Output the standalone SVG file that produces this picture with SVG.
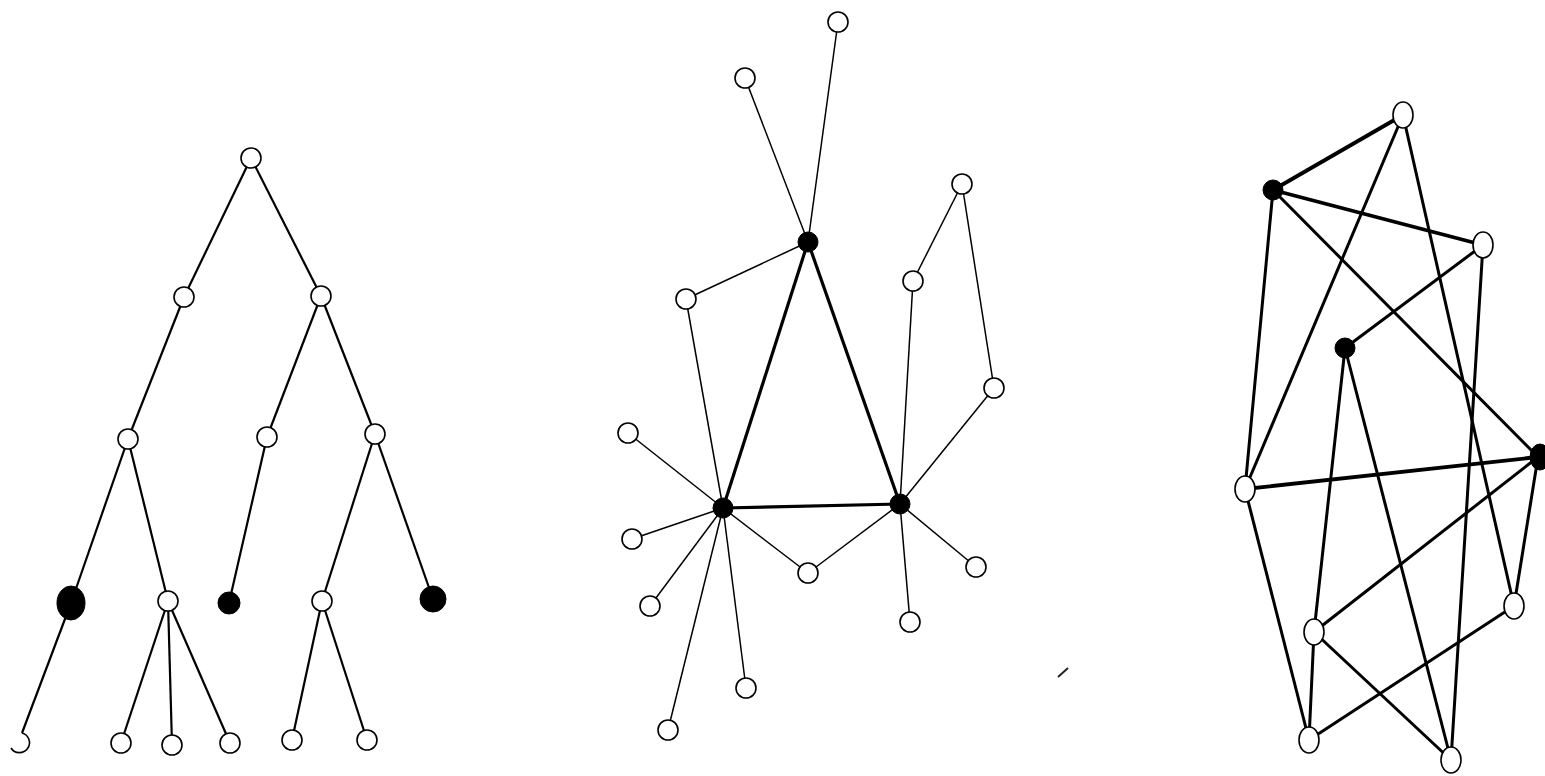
<svg xmlns="http://www.w3.org/2000/svg" width="1545" height="776" viewBox="0 0 1545 776">
<style>
.w{fill:#fff;stroke:#000;stroke-width:1.6}
.b{fill:#000;stroke:#000;stroke-width:1}
.t line{stroke:#000;stroke-width:2.2}
.m line{stroke:#000;stroke-width:1.5}
.m line.k{stroke-width:3.2}
.r line{stroke:#000;stroke-width:3}
.r line.k{stroke-width:3.8}
</style>
<rect width="1545" height="776" fill="#fff"/>
<g id="connectors">
<g class="t">
<line x1="251" y1="158" x2="184" y2="297"/>
<line x1="251" y1="158" x2="321" y2="296"/>
<line x1="184" y1="297" x2="128" y2="439"/>
<line x1="321" y1="296" x2="267" y2="437"/>
<line x1="321" y1="296" x2="375" y2="434"/>
<line x1="128" y1="439" x2="71" y2="603"/>
<line x1="128" y1="439" x2="168" y2="601"/>
<line x1="267" y1="437" x2="229" y2="603"/>
<line x1="375" y1="434" x2="322" y2="601"/>
<line x1="375" y1="434" x2="433" y2="599"/>
<line x1="71" y1="603" x2="22" y2="733"/>
<line x1="168" y1="601" x2="121" y2="743"/>
<line x1="168" y1="601" x2="172" y2="745"/>
<line x1="168" y1="601" x2="230" y2="743"/>
<line x1="322" y1="601" x2="292" y2="740"/>
<line x1="322" y1="601" x2="367" y2="740"/>
</g>
<g class="m">
<line x1="808" y1="242" x2="838" y2="22"/>
<line x1="808" y1="242" x2="745" y2="78"/>
<line x1="808" y1="242" x2="686" y2="299"/>
<line x1="686" y1="299" x2="723" y2="508"/>
<line class="k" x1="808" y1="242" x2="723" y2="508"/>
<line class="k" x1="808" y1="242" x2="900" y2="504"/>
<line class="k" x1="723" y1="508" x2="900" y2="504"/>
<line x1="723" y1="508" x2="628" y2="433"/>
<line x1="723" y1="508" x2="632" y2="539"/>
<line x1="723" y1="508" x2="650" y2="606"/>
<line x1="723" y1="508" x2="668" y2="730"/>
<line x1="723" y1="508" x2="746" y2="688"/>
<line x1="723" y1="508" x2="808" y2="573"/>
<line x1="900" y1="504" x2="808" y2="573"/>
<line x1="900" y1="504" x2="976" y2="567"/>
<line x1="900" y1="504" x2="910" y2="622"/>
<line x1="900" y1="504" x2="913" y2="281"/>
<line x1="900" y1="504" x2="994" y2="388"/>
<line x1="913" y1="281" x2="962" y2="184"/>
<line x1="962" y1="184" x2="994" y2="388"/>
</g>
<g class="r">
<line class="k" x1="1273" y1="190" x2="1403" y2="115"/>
<line class="k" x1="1273" y1="190" x2="1483" y2="245"/>
<line x1="1273" y1="190" x2="1538" y2="457"/>
<line x1="1273" y1="190" x2="1245" y2="489"/>
<line x1="1403" y1="115" x2="1245" y2="489"/>
<line x1="1403" y1="115" x2="1514" y2="606"/>
<line x1="1483" y1="245" x2="1345" y2="348"/>
<line x1="1483" y1="245" x2="1451" y2="760"/>
<line x1="1345" y1="348" x2="1314" y2="632"/>
<line x1="1345" y1="348" x2="1451" y2="760"/>
<line class="k" x1="1245" y1="489" x2="1538" y2="457"/>
<line x1="1538" y1="457" x2="1314" y2="632"/>
<line x1="1538" y1="457" x2="1514" y2="606"/>
<line x1="1245" y1="489" x2="1309" y2="740"/>
<line x1="1314" y1="632" x2="1309" y2="740"/>
<line x1="1314" y1="632" x2="1451" y2="760"/>
<line x1="1514" y1="606" x2="1309" y2="740"/>
</g>
<path d="M1058,677 L1068,668" stroke="#222" stroke-width="2" fill="none"/>
</g>
<g id="tree">
<g id="t1"><circle class="w" cx="251" cy="158" r="10"/></g>
<g id="t2"><circle class="w" cx="184" cy="297" r="10"/></g>
<g id="t3"><circle class="w" cx="321" cy="296" r="10"/></g>
<g id="t4"><circle class="w" cx="128" cy="439" r="10"/></g>
<g id="t5"><circle class="w" cx="267" cy="437" r="10"/></g>
<g id="t6"><circle class="w" cx="375" cy="434" r="10"/></g>
<g id="t7"><ellipse class="b" cx="71" cy="603" rx="14" ry="17"/></g>
<g id="t8"><circle class="w" cx="168" cy="601" r="10"/></g>
<g id="t9"><circle class="b" cx="229" cy="603" r="11"/></g>
<g id="t10"><circle class="w" cx="322" cy="601" r="10"/></g>
<g id="t11"><circle class="b" cx="433" cy="599" r="13"/></g>
<g id="t12"><path d="M22,733 A10,10 0 1 1 11,748" fill="none" stroke="#000" stroke-width="1.6"/></g>
<g id="t13"><circle class="w" cx="121" cy="743" r="10"/></g>
<g id="t14"><circle class="w" cx="172" cy="745" r="10"/></g>
<g id="t15"><circle class="w" cx="230" cy="743" r="10"/></g>
<g id="t16"><circle class="w" cx="292" cy="740" r="10"/></g>
<g id="t17"><circle class="w" cx="367" cy="740" r="10"/></g>
</g>
<g id="middle">
<g id="m1"><circle class="w" cx="838" cy="22" r="10"/></g>
<g id="m2"><circle class="w" cx="745" cy="78" r="10"/></g>
<g id="m3"><circle class="b" cx="808" cy="242" r="10"/></g>
<g id="m4"><circle class="w" cx="686" cy="299" r="10"/></g>
<g id="m5"><circle class="w" cx="962" cy="184" r="10"/></g>
<g id="m6"><circle class="w" cx="913" cy="281" r="10"/></g>
<g id="m7"><circle class="w" cx="994" cy="388" r="10"/></g>
<g id="m8"><circle class="b" cx="723" cy="508" r="10"/></g>
<g id="m9"><circle class="b" cx="900" cy="504" r="10"/></g>
<g id="m10"><circle class="w" cx="628" cy="433" r="10"/></g>
<g id="m11"><circle class="w" cx="632" cy="539" r="10"/></g>
<g id="m12"><circle class="w" cx="650" cy="606" r="10"/></g>
<g id="m13"><circle class="w" cx="668" cy="730" r="10"/></g>
<g id="m14"><circle class="w" cx="746" cy="688" r="10"/></g>
<g id="m15"><circle class="w" cx="808" cy="573" r="10"/></g>
<g id="m16"><circle class="w" cx="976" cy="567" r="10"/></g>
<g id="m17"><circle class="w" cx="910" cy="622" r="10"/></g>
</g>
<g id="right">
<g id="r1"><ellipse class="w" cx="1403" cy="115" rx="10" ry="13"/></g>
<g id="r2"><circle class="b" cx="1273" cy="190" r="10"/></g>
<g id="r3"><ellipse class="w" cx="1483" cy="245" rx="10" ry="13"/></g>
<g id="r4"><circle class="b" cx="1345" cy="348" r="10"/></g>
<g id="r5"><ellipse class="b" cx="1540" cy="457" rx="10" ry="13"/></g>
<g id="r6"><ellipse class="w" cx="1245" cy="489" rx="10" ry="13"/></g>
<g id="r7"><ellipse class="w" cx="1514" cy="606" rx="10" ry="13"/></g>
<g id="r8"><ellipse class="w" cx="1314" cy="632" rx="10" ry="13"/></g>
<g id="r9"><ellipse class="w" cx="1309" cy="740" rx="10" ry="13"/></g>
<g id="r10"><ellipse class="w" cx="1451" cy="760" rx="10" ry="13"/></g>
</g>
</svg>
